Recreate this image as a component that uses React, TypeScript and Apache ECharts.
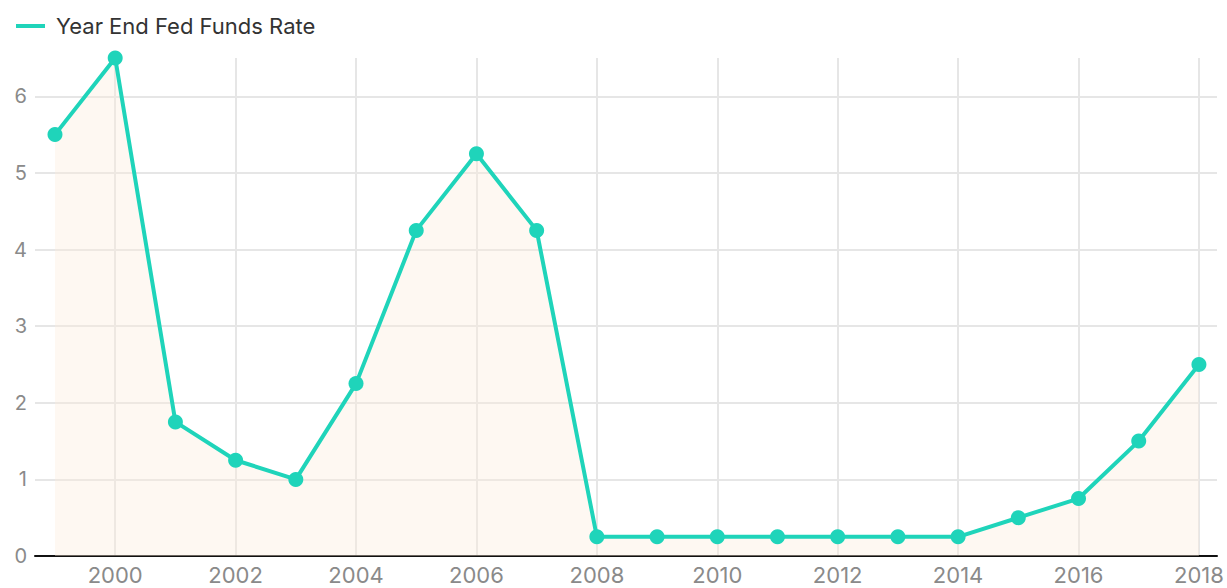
import React, { useEffect, useRef } from "react";
import * as echarts from "echarts";

const years = [1999, 2000, 2001, 2002, 2003, 2004, 2005, 2006, 2007, 2008, 2009, 2010, 2011, 2012, 2013, 2014, 2015, 2016, 2017, 2018];
const rates = [5.5, 6.5, 1.75, 1.25, 1.0, 2.25, 4.25, 5.25, 4.25, 0.25, 0.25, 0.25, 0.25, 0.25, 0.25, 0.25, 0.5, 0.75, 1.5, 2.5];
const seriesName = "Year End Fed Funds Rate";

export default function App() {
  const ref = useRef<HTMLDivElement>(null);
  useEffect(() => {
    if (!ref.current) return;
    const chart = echarts.init(ref.current, undefined, { renderer: "svg" });
    const font = "Inter, 'Noto Sans', sans-serif";
    chart.setOption({
      animation: false,
      textStyle: { fontFamily: font },
      legend: {
        show: true,
        left: 11,
        top: 10,
        icon: "rect",
        itemWidth: 29,
        itemHeight: 4,
        itemGap: 10,
        textStyle: { fontSize: 22, color: "#333", fontFamily: font, padding: [0, 0, 0, 6] },
        data: [seriesName],
      },
      grid: { left: 35, right: 10, top: 58, bottom: 32, containLabel: false },
      xAxis: {
        type: "value",
        min: 1998.668,
        max: 2018.3,
        splitNumber: 10,
        axisLine: { show: true, lineStyle: { color: "#111", width: 2 } },
        axisTick: { show: false },
        axisLabel: {
          color: "#8a8a8a",
          fontSize: 22,
          margin: 8,
          lineHeight: 22,
          fontFamily: font,
          formatter: (v: number) => (Math.abs(v - Math.round(v)) < 1e-6 ? String(Math.round(v)) : ""),
        },
        splitLine: { show: true, showMinLine: false, showMaxLine: false, lineStyle: { color: "#e6e6e6", width: 2 } },
      },
      yAxis: {
        type: "value",
        min: 0,
        max: 6.5,
        interval: 1,
        axisLine: { show: false },
        axisTick: { show: false },
        axisLabel: {
          color: "#8a8a8a",
          fontSize: 20,
          margin: 8,
          fontFamily: font,
          showMaxLabel: false,
        },
        splitLine: { show: true, showMaxLine: false, lineStyle: { color: "#e6e6e6", width: 2 } },
      },
      series: [
        {
          name: seriesName,
          type: "line",
          data: years.map((y, i) => [y, rates[i]]),
          symbol: "circle",
          symbolSize: 15,
          lineStyle: { color: "#1fd4ba", width: 4 },
          itemStyle: { color: "#1fd4ba" },
          areaStyle: { color: "rgba(253,236,222,0.55)" },
          z: 3,
        },
      ],
    });
    return () => chart.dispose();
  }, []);
  return <div ref={ref} style={{ position: "absolute", left: 0, top: 0, width: 1227, height: 588 }} />;
}
